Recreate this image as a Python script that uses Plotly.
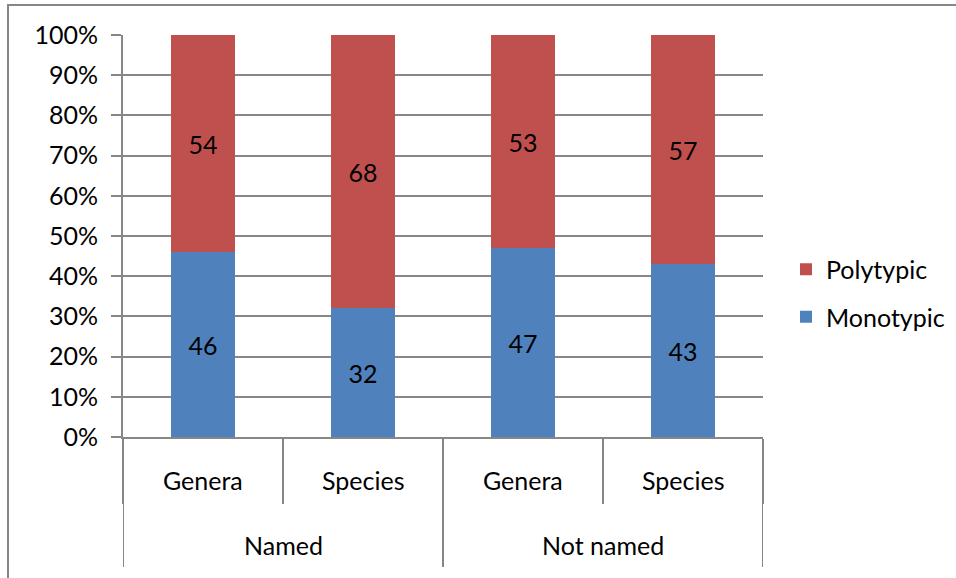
import plotly.graph_objects as go

groups = ["Named", "Named", "Not named", "Not named"]
subcats = ["Genera", "Species", "Genera", "Species"]
monotypic = [46, 32, 47, 43]
polytypic = [54, 68, 53, 57]
ytick_vals = list(range(0, 101, 10))
ytick_text = [f"{v}%" for v in ytick_vals]

W, H = 956, 578
L, R, T, B = 123, 193, 35, 141
PW, PH = W - L - R, H - T - B

FONT = "Lato, Open Sans, sans-serif"
FS = 25
GRID = "#878787"

keys = [f"{g}|{s}" for g, s in zip(groups, subcats)]

fig = go.Figure()
fig.add_trace(go.Bar(
    x=keys, y=monotypic, name="Monotypic", legendgroup="b", legendrank=2,
    marker=dict(color="#4F81BD", line=dict(width=0)),
    text=[str(v) for v in monotypic], textposition="inside",
    insidetextanchor="middle", textfont=dict(color="black", size=FS, family=FONT),
    width=0.4,
))
fig.add_trace(go.Bar(
    x=keys, y=polytypic, name="Polytypic", legendgroup="a", legendrank=1,
    marker=dict(color="#C0504D", line=dict(width=0)),
    text=[str(v) for v in polytypic], textposition="inside",
    insidetextanchor="middle", textfont=dict(color="black", size=FS, family=FONT),
    width=0.4,
))

fig.update_layout(
    width=W, height=H,
    margin=dict(l=L, r=R, t=T, b=B, autoexpand=False),
    barmode="stack",
    plot_bgcolor="white", paper_bgcolor="white",
    font=dict(family=FONT, size=FS, color="black"),
    legend=dict(
        x=(786 - L) / PW, y=(437 - 293) / PH,
        xanchor="left", yanchor="middle",
        traceorder="grouped", font=dict(size=FS, family=FONT),
        tracegroupgap=12, itemwidth=30,
    ),
    showlegend=True,
)
fig.update_yaxes(
    range=[0, 100], tickvals=ytick_vals, ticktext=ytick_text,
    showgrid=True, gridcolor=GRID, gridwidth=1.5,
    showline=True, linecolor=GRID, linewidth=2,
    ticks="outside", ticklen=10, tickcolor=GRID, tickwidth=1.5,
    zeroline=False, tickfont=dict(size=FS), ticklabelstandoff=8,
)
fig.update_xaxes(
    type="category", range=[-0.5, 3.5],
    showline=True, linecolor=GRID, linewidth=2,
    tickson="boundaries", ticks="outside", ticklen=65, tickcolor=GRID, tickwidth=2,
    showticklabels=False,
)

# inner category labels
for i, s in enumerate(subcats):
    fig.add_annotation(x=i, y=(437 - 480) / PH, xref="x", yref="paper",
                       text=s, showarrow=False, font=dict(size=FS),
                       xanchor="center", yanchor="middle")
# group labels and long dividers
uniq = []
for g in groups:
    if g not in uniq:
        uniq.append(g)
for g in uniq:
    idx = [i for i, gg in enumerate(groups) if gg == g]
    mid = (idx[0] + idx[-1]) / 2
    fig.add_annotation(x=mid, y=(437 - 545) / PH, xref="x", yref="paper",
                       text=g, showarrow=False, font=dict(size=FS),
                       xanchor="center", yanchor="middle")
    for bx in (idx[0] - 0.5, idx[-1] + 0.5):
        fig.add_shape(type="line", xref="x", yref="paper",
                      x0=bx, x1=bx, y0=(437 - 567) / PH, y1=0,
                      line=dict(color=GRID, width=2))

# outer chart border
fig.add_shape(type="rect", xref="paper", yref="paper",
              x0=(8 - L) / PW, x1=(W + 10 - L) / PW,
              y0=(H - B - (H + 10)) / PH, y1=(H - B - 5) / PH,
              line=dict(color=GRID, width=2), layer="below")

fig.write_html("out.html")
